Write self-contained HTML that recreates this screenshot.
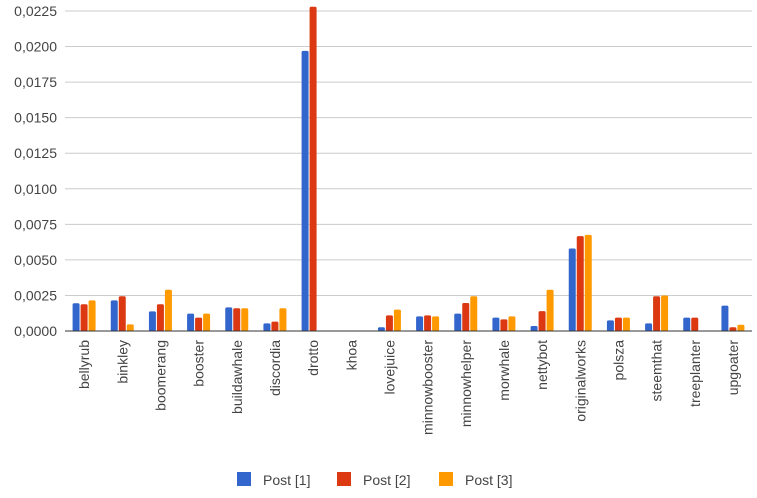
<!DOCTYPE html>
<html><head><meta charset="utf-8"><style>
body{margin:0;background:#fff;font-family:"Liberation Sans",sans-serif}
text{font-family:"Liberation Sans",sans-serif;fill:#444}
</style></head><body>
<svg id="c" width="757" height="493"></svg>
<script>
const categories=["bellyrub","binkley","boomerang","booster","buildawhale","discordia","drotto","khoa","lovejuice","minnowbooster","minnowhelper","morwhale","nettybot","originalworks","polsza","steemthat","treeplanter","upgoater"];
const post1=[0.00195,0.00215,0.00138,0.00122,0.00166,0.00054,0.0197,0,0.00026,0.00103,0.00122,0.00094,0.00035,0.0058,0.00075,0.00054,0.00094,0.00178];
const post2=[0.00188,0.00244,0.00188,0.00094,0.0016,0.00066,0.0228,0,0.0011,0.0011,0.00197,0.00082,0.0014,0.00667,0.00094,0.00244,0.00094,0.00026];
const post3=[0.00215,0.00047,0.0029,0.00122,0.0016,0.0016,0,0,0.0015,0.00103,0.00244,0.00103,0.0029,0.00676,0.00094,0.0025,0,0.00044];
const ticks=["0,0000","0,0025","0,0050","0,0075","0,0100","0,0125","0,0150","0,0175","0,0200","0,0225"];
const tickVals=[0,0.0025,0.005,0.0075,0.01,0.0125,0.015,0.0175,0.02,0.0225];
const series=[{name:"Post [1]",vals:post1,color:"#3366cc"},{name:"Post [2]",vals:post2,color:"#dc3912"},{name:"Post [3]",vals:post3,color:"#ff9900"}];
const NS="http://www.w3.org/2000/svg",svg=document.getElementById('c');
const x0=65,x1=752,y0=331,y1=11,yMax=0.0225;
const y=v=>y0-(v/yMax)*(y0-y1);
const step=(x1-x0)/categories.length;
const xc=i=>x0+step*(i+0.5);
function mk(t,a,p){const e=document.createElementNS(NS,t);for(const k in a)e.setAttribute(k,a[k]);(p||svg).appendChild(e);return e;}
tickVals.forEach((v,i)=>{
 const l=mk('line',{x1:x0,x2:x1,y1:y(v),y2:y(v),stroke:v===0?'#333':'#ccc','stroke-width':1});
 
 
 const t=mk('text',{x:57,y:y(v)+5,'text-anchor':'end','font-size':14});
 t.textContent=ticks[i];
 
 
});
const bw=7,gap=1;
categories.forEach((c,i)=>{
 series.forEach((s,j)=>{
  const v=s.vals[i];if(!v)return;
  const bx=xc(i)+(j-1)*(bw+gap)-bw/2;
  const r=mk('rect',{x:bx,y:y(v),width:bw,height:y0-y(v),fill:s.color,rx:1.5});
  
  
 });
 const t=mk('text',{x:0,y:0,'text-anchor':'end','font-size':14,transform:`translate(${xc(i)+5},340) rotate(-90)`});
 t.textContent=c;
 
 
});
mk('line',{x1:x0,x2:x1,y1:y0,y2:y0,stroke:'#333','stroke-width':1});
const lx=[237,337,439];
series.forEach((s,j)=>{
 const g=mk('g',{});
 
 
 mk('rect',{x:lx[j],y:472,width:14,height:14,fill:s.color},g);
 const t=mk('text',{x:lx[j]+26,y:485,'font-size':14},g);
 t.textContent=s.name;
});
</script>
</body></html>
